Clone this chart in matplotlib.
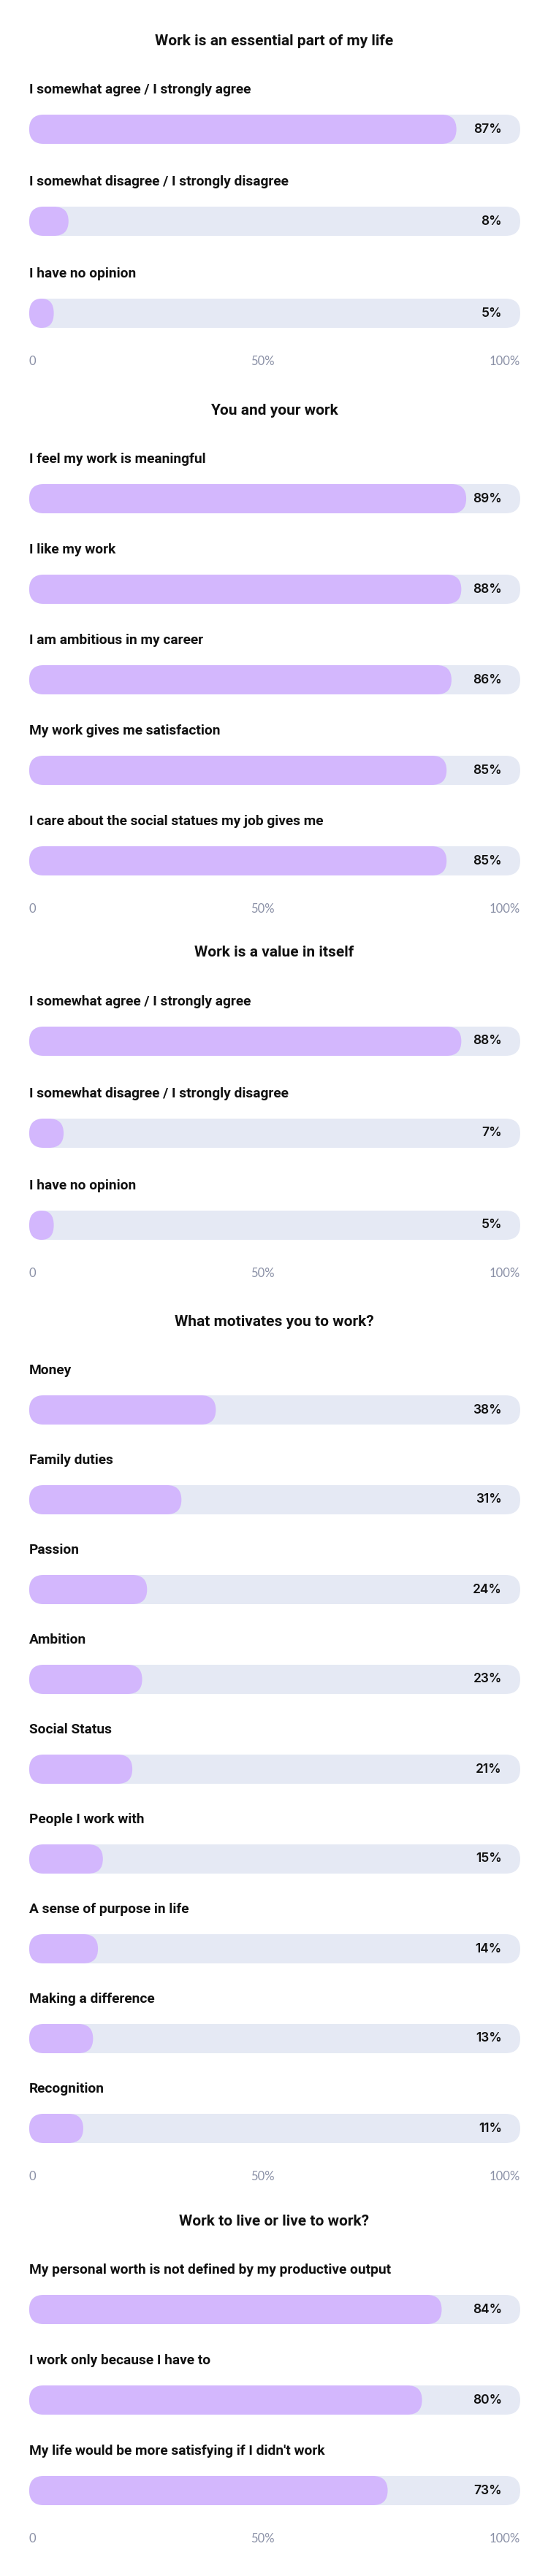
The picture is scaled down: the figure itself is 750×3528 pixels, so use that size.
import matplotlib
matplotlib.use("Agg")
import matplotlib.pyplot as plt
from matplotlib.patches import FancyBboxPatch

# ---- data ----
titles = [
    "Work is an essential part of my life",
    "You and your work",
    "Work is a value in itself",
    "What motivates you to work?",
    "Work to live or live to work?",
]

essential_labels = ["I somewhat agree / I strongly agree",
                    "I somewhat disagree / I strongly disagree",
                    "I have no opinion"]
essential_values = [87, 8, 5]

you_work_labels = ["I feel my work is meaningful",
                   "I like my work",
                   "I am ambitious in my career",
                   "My work gives me satisfaction",
                   "I care about the social statues my job gives me"]
you_work_values = [89, 88, 86, 85, 85]

value_labels = ["I somewhat agree / I strongly agree",
                "I somewhat disagree / I strongly disagree",
                "I have no opinion"]
value_values = [88, 7, 5]

motiv_labels = ["Money", "Family duties", "Passion", "Ambition", "Social Status",
                "People I work with", "A sense of purpose in life",
                "Making a difference", "Recognition"]
motiv_values = [38, 31, 24, 23, 21, 15, 14, 13, 11]

live_labels = ["My personal worth is not defined by my productive output",
               "I work only because I have to",
               "My life would be more satisfying if I didn't work"]
live_values = [84, 80, 73]

tick_vals = [0, 50, 100]
tick_text = ["0", "50%", "100%"]

sections = [
    (essential_labels, essential_values),
    (you_work_labels, you_work_values),
    (value_labels, value_values),
    (motiv_labels, motiv_values),
    (live_labels, live_values),
]

# ---- layout (pixels) ----
W, H = 750, 3528
X0, X1 = 40, 712
title_y = [56, 562, 1305, 1810, 3042]
row_gap = [126, 124, 126, 123, 124]
FIRST_BAR = 121
LABEL_UP = 54
TICK_DOWN = 66
BAR_H = 40

FILL = "#d3b7fd"
TRACK = "#e5e9f4"
TICK_C = "#8a90a6"
LABEL_FONT = ["Roboto", "DejaVu Sans"]

fig = plt.figure(figsize=(W / 100, H / 100), dpi=100)
fig.patch.set_facecolor("white")

px_per_x = (X1 - X0) / 100.0


def rounded(ax, x, y, w, h_units, s):
    r = min(20 / px_per_x, w / 2)
    aspect = (BAR_H / 2 / s) / r
    return FancyBboxPatch((x, y - h_units / 2), w, h_units,
                          boxstyle=f"round,pad=0,rounding_size={r}",
                          mutation_aspect=aspect, linewidth=0)


for k, (labels, values) in enumerate(sections):
    n = len(values)
    s = row_gap[k]
    first = title_y[k] + FIRST_BAR
    top_px = first - s / 2
    h_px = n * s
    ax = fig.add_axes([X0 / W, 1 - (top_px + h_px) / H, (X1 - X0) / W, h_px / H])
    ax.set_xlim(0, 100)
    ax.set_ylim(n - 0.5, -0.5)
    ax.axis("off")

    fig.text(0.5, 1 - title_y[k] / H, titles[k], ha="center", va="center",
             fontsize=15, fontweight="bold", family=LABEL_FONT, color="#111111")

    h_units = BAR_H / s
    for i, (lab, v) in enumerate(zip(labels, values)):
        track = rounded(ax, 0, i, 100, h_units, s)
        track.set_facecolor(TRACK)
        ax.add_patch(track)
        bar = rounded(ax, 0, i, v, h_units, s)
        bar.set_facecolor(FILL)
        ax.add_patch(bar)
        ax.text(100 - 25 / px_per_x, i, f"{v}%", ha="right", va="center",
                fontsize=12.5, fontweight="semibold", family=["Inter", "DejaVu Sans"],
                color="#111111")
        ax.text(0, i - LABEL_UP / s, lab, ha="left", va="center", fontsize=13.8,
                fontweight="bold", family=LABEL_FONT, color="#111111", clip_on=False)

    ty = n - 1 + TICK_DOWN / s
    for tv, tt in zip(tick_vals, tick_text):
        ha = "left" if tv == 0 else "right"
        ax.text(tv, ty, tt, ha=ha, va="center", fontsize=12, fontweight="normal",
                family=["Lato", "DejaVu Sans"], color=TICK_C, clip_on=False)

fig.savefig("out.png", dpi=100, facecolor="white")
